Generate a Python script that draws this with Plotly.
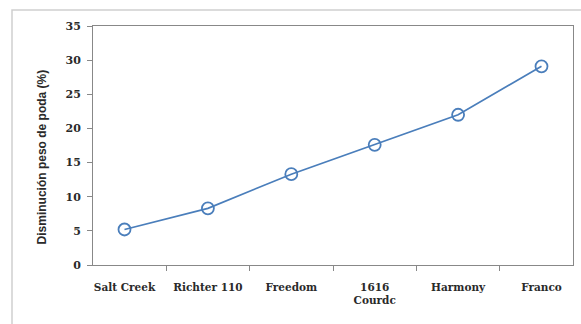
import plotly.graph_objects as go

# Pruning-weight reduction by rootstock
portainjertos = ["Salt Creek", "Richter 110", "Freedom", "1616<br>Courdc", "Harmony", "Franco"]
disminucion = [5.2, 8.3, 13.3, 17.6, 22.0, 29.1]
y_ticks = [0, 5, 10, 15, 20, 25, 30, 35]

azul = "#4A7EBB"
fuente_ticks = "DejaVu Serif"
fuente_titulo = "Liberation Sans"
gris_texto = "#2a2a2a"

fig = go.Figure()
fig.add_trace(go.Scatter(
    x=portainjertos,
    y=disminucion,
    mode="lines+markers",
    line=dict(color=azul, width=1.7),
    marker=dict(symbol="circle-open", size=12, color=azul, line=dict(width=1.8, color=azul)),
    showlegend=False,
))

fig.update_layout(
    width=581,
    height=324,
    margin=dict(l=93, r=8, t=26, b=59),
    paper_bgcolor="white",
    plot_bgcolor="white",
    font=dict(family=fuente_ticks, size=10, color=gris_texto),
    xaxis=dict(
        type="category",
        tickson="boundaries",
        ticks="outside",
        ticklen=5,
        tickcolor="#888888",
        showline=True,
        linecolor="#888888",
        linewidth=1,
        mirror=True,
        showgrid=False,
        ticklabelstandoff=12,
        tickfont=dict(family=fuente_ticks, size=10.5, color=gris_texto, weight="bold"),
    ),
    yaxis=dict(
        range=[0, 35],
        tickvals=y_ticks,
        ticks="outside",
        ticklen=5,
        tickcolor="#888888",
        showline=True,
        linecolor="#888888",
        linewidth=1,
        mirror=True,
        showgrid=False,
        zeroline=False,
        ticklabelstandoff=4,
        tickfont=dict(family=fuente_ticks, size=11, color=gris_texto, weight="bold"),
    ),
    shapes=[
        dict(type="rect", xref="paper", yref="paper",
             x0=-0.16875, x1=1.04, y0=-0.3, y1=1.067,
             line=dict(color="#cfcfcf", width=1.5), fillcolor="rgba(0,0,0,0)", layer="below"),
    ],
    annotations=[
        dict(text="Disminución peso de poda (%)", xref="paper", yref="paper",
             x=-0.125, y=0.45, textangle=-90, showarrow=False,
             font=dict(family=fuente_titulo, size=12, color=gris_texto, weight="bold")),
    ],
)

fig.write_html("out.html")
